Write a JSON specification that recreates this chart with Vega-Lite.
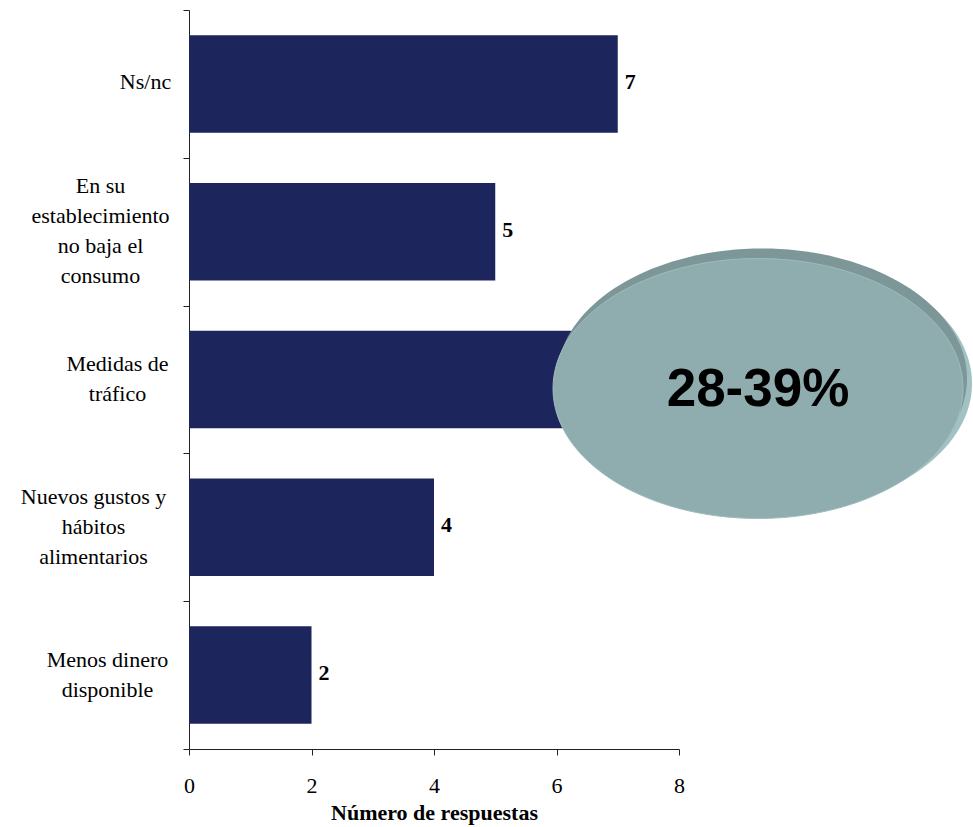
{
  "$schema": "https://vega.github.io/schema/vega-lite/v6.json",
  "width": 490,
  "height": 739,
  "autosize": "none",
  "padding": {"left": 189, "top": 10, "right": 294, "bottom": 78},
  "background": "white",
  "config": {"view": {"stroke": null}, "font": "Liberation Serif"},
  "datasets": {
    "motivos": [
      {"motivo": "Ns/nc", "respuestas": 7},
      {"motivo": "En su establecimiento no baja el consumo", "respuestas": 5},
      {"motivo": "Medidas de tráfico", "respuestas": 7},
      {"motivo": "Nuevos gustos y hábitos alimentarios", "respuestas": 4},
      {"motivo": "Menos dinero disponible", "respuestas": 2}
    ],
    "destacado": [{"etiqueta": "28-39%", "motivo": "Medidas de tráfico"}]
  },
  "layer": [
    {
      "data": {"name": "motivos"},
      "mark": {"type": "bar", "color": "#1c255c", "height": {"band": 0.66}},
      "encoding": {
        "y": {
          "field": "motivo",
          "type": "nominal",
          "sort": null,
          "scale": {
            "domain": ["Ns/nc", "En su establecimiento no baja el consumo", "Medidas de tráfico", "Nuevos gustos y hábitos alimentarios", "Menos dinero disponible"],
            "paddingInner": 0,
            "paddingOuter": 0
          },
          "axis": {
            "title": null,
            "tickBand": "extent",
            "tickSize": 6,
            "domainColor": "#222222",
            "tickColor": "#222222",
            "labelFont": "Liberation Serif",
            "labelFontSize": 22,
            "labelColor": "black",
            "labelLineHeight": 30,
            "labelAlign": "center",
            "labelBaseline": "middle",
            "labelLimit": 300,
            "labelPadding": {
              "condition": [
                {"test": "datum.value == 'Ns/nc'", "value": 38},
                {"test": "datum.value == 'En su establecimiento no baja el consumo'", "value": 83},
                {"test": "datum.value == 'Medidas de tráfico'", "value": 66},
                {"test": "datum.value == 'Nuevos gustos y hábitos alimentarios'", "value": 90}
              ],
              "value": 76
            },
            "labelOffset": {
              "condition": [
                {"test": "datum.value == 'Ns/nc'", "value": -2},
                {"test": "datum.value == 'En su establecimiento no baja el consumo'", "value": -46},
                {"test": "datum.value == 'Medidas de tráfico'", "value": -16},
                {"test": "datum.value == 'Nuevos gustos y hábitos alimentarios'", "value": -31}
              ],
              "value": -16
            },
            "labelExpr": "datum.value == 'En su establecimiento no baja el consumo' ? ['En su', 'establecimiento', 'no baja el', 'consumo'] : datum.value == 'Medidas de tráfico' ? ['Medidas de', 'tráfico'] : datum.value == 'Nuevos gustos y hábitos alimentarios' ? ['Nuevos gustos y', 'hábitos', 'alimentarios'] : datum.value == 'Menos dinero disponible' ? ['Menos dinero', 'disponible'] : datum.label"
          }
        },
        "x": {
          "field": "respuestas",
          "type": "quantitative",
          "scale": {"domain": [0, 8]},
          "axis": {
            "title": "Número de respuestas",
            "titleFont": "Liberation Serif",
            "titleFontSize": 22,
            "titleFontWeight": "bold",
            "titleColor": "black",
            "titlePadding": 6,
            "values": [0, 2, 4, 6, 8],
            "format": "d",
            "grid": false,
            "tickSize": 6,
            "domainColor": "#222222",
            "tickColor": "#222222",
            "labelFont": "Liberation Serif",
            "labelFontSize": 22,
            "labelColor": "black",
            "labelPadding": 20,
            "labelFlush": false
          }
        }
      }
    },
    {
      "data": {"name": "motivos"},
      "mark": {"type": "text", "align": "left", "dx": 7, "dy": -2, "baseline": "middle", "fontWeight": "bold", "fontSize": 22, "font": "Liberation Serif", "color": "black"},
      "encoding": {
        "y": {"field": "motivo", "type": "nominal", "sort": null},
        "x": {"field": "respuestas", "type": "quantitative"},
        "text": {"field": "respuestas", "type": "quantitative"}
      }
    },
    {
      "data": {"name": "destacado"},
      "mark": {"type": "point", "filled": true, "opacity": 1, "color": "#a2c1c2", "strokeWidth": 0, "size": 168100, "xOffset": 9, "yOffset": 4, "shape": "M -1 0 C -1 -0.35 -0.552 -0.634 0 -0.634 C 0.552 -0.634 1 -0.35 1 0 C 1 0.35 0.552 0.634 0 0.634 C -0.552 0.634 -1 0.35 -1 0 Z"},
      "encoding": {"x": {"datum": 9.29, "type": "quantitative"}, "y": {"field": "motivo", "type": "nominal", "sort": null}}
    },
    {
      "data": {"name": "destacado"},
      "mark": {"type": "point", "filled": true, "opacity": 1, "color": "#7d9798", "strokeWidth": 0, "size": 168100, "xOffset": 4, "yOffset": -1, "shape": "M -1 0 C -1 -0.35 -0.552 -0.634 0 -0.634 C 0.552 -0.634 1 -0.35 1 0 C 1 0.35 0.552 0.634 0 0.634 C -0.552 0.634 -1 0.35 -1 0 Z"},
      "encoding": {"x": {"datum": 9.29, "type": "quantitative"}, "y": {"field": "motivo", "type": "nominal", "sort": null}}
    },
    {
      "data": {"name": "destacado"},
      "mark": {"type": "point", "filled": true, "opacity": 1, "color": "#8fadae", "stroke": "#9fbcbd", "strokeWidth": 1, "size": 168100, "yOffset": 9, "shape": "M -1 0 C -1 -0.35 -0.552 -0.634 0 -0.634 C 0.552 -0.634 1 -0.35 1 0 C 1 0.35 0.552 0.634 0 0.634 C -0.552 0.634 -1 0.35 -1 0 Z"},
      "encoding": {"x": {"datum": 9.29, "type": "quantitative"}, "y": {"field": "motivo", "type": "nominal", "sort": null}}
    },
    {
      "data": {"name": "destacado"},
      "mark": {"type": "text", "font": "Liberation Sans", "fontSize": 53, "fontWeight": "bold", "color": "black", "align": "center", "baseline": "middle", "yOffset": 10},
      "encoding": {"x": {"datum": 9.29, "type": "quantitative"}, "y": {"field": "motivo", "type": "nominal", "sort": null}, "text": {"field": "etiqueta"}}
    }
  ]
}
